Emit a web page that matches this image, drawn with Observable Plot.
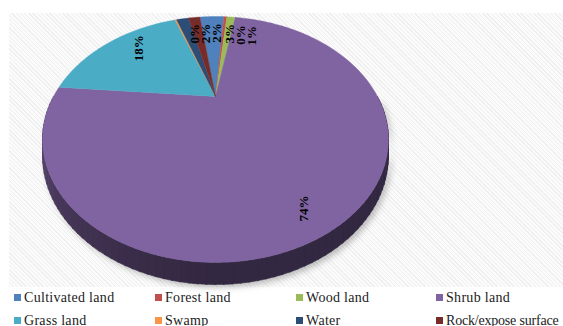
<!DOCTYPE html>
<html><head><meta charset="utf-8">
<script src="https://cdn.jsdelivr.net/npm/d3@7"></script>
<script src="https://cdn.jsdelivr.net/npm/@observablehq/plot@0.6"></script>
<style>
html,body{margin:0;padding:0;background:#fff;}
#wrap{position:relative;width:563px;height:326px;overflow:hidden;}
#bg{position:absolute;left:9px;top:13px;width:554px;height:274px;background:repeating-linear-gradient(45deg,#efefef 0px,#efefef 1px,#fbfbfb 1px,#fbfbfb 3px);}
#chart{position:absolute;left:0;top:0;}
#legend{position:absolute;left:0;top:289px;width:563px;height:37px;font-family:"Liberation Serif","DejaVu Serif",serif;font-size:14px;letter-spacing:0.3px;color:#222;}
.item{position:absolute;white-space:nowrap;line-height:16px;}
.sw{display:inline-block;width:7px;height:7px;margin-right:3px;vertical-align:1px;}
</style></head><body>
<div id="wrap"><div id="bg"></div><div id="chart"></div><div id="legend"></div></div>
<script>
const categories = ["Cultivated land","Forest land","Wood land","Shrub land","Grass land","Swamp","Water","Rock/expose surface"];
const shares = [3.2, 0.4, 1.1, 73.8, 18.2, 0.2, 1.6, 1.5];
const labels = ["3%","0%","1%","74%","18%","0%","2%","2%"];
const colors = ["#4F81BD","#C0504D","#9BBB59","#8064A2","#4BACC6","#F79646","#2C4D75","#772C2A"];

// layout constants
const startDeg = -7.5, persp = 0.35, depth = 0.133, labelShift = 10, labelR = 0.86;
const rad = d => d * Math.PI / 180;
const proj = (deg, r = 1, dz = 0) => {
  const c = Math.cos(rad(deg)) * r, s = Math.sin(rad(deg)) * r;
  const k = 1 + persp * c;
  return {x: s / k, y: (c - dz) / k};
};
const total = d3.sum(shares);
let acc = startDeg;
const slices = categories.map((c, i) => {
  const a0 = acc; acc += shares[i] / total * 360;
  return {c, i, a0, a1: acc, color: colors[i], label: labels[i]};
});
const arc = (a0, a1, dz = 0) => {
  const n = Math.max(2, Math.ceil(Math.abs(a1 - a0)));
  return d3.range(n + 1).map(j => proj(a0 + (a1 - a0) * j / n, 1, dz));
};

const marks = [];
// shadow
marks.push(Plot.line([...arc(90, 270, depth), ...arc(270, 90, 0)], {x: "x", y: "y", fill: "#000", fillOpacity: 0.25, stroke: "none", dx: 3, dy: 3}));
// walls (front half)
slices.forEach(s => {
  const lo = Math.max(s.a0, 90), hi = Math.min(s.a1, 270);
  if (hi <= lo) return;
  const n = Math.ceil((hi - lo) / 2);
  for (let j = 0; j < n; j++) {
    const p0 = lo + (hi - lo) * j / n, p1 = lo + (hi - lo) * (j + 1) / n;
    const m = (p0 + p1) / 2;
    const t = 0.6 - 0.36 * Math.pow(Math.max(0, (m - 180) / 90), 1.3);
    const col = d3.interpolateRgb(s.color, "#000")(t);
    const pts = [proj(p0), proj(p1 + 0.3), proj(p1 + 0.3, 1, depth), proj(p0, 1, depth), proj(p0)];
    marks.push(Plot.line(pts, {x: "x", y: "y", fill: col, stroke: col, strokeWidth: 0.6}));
  }
});
// top faces
slices.forEach(s => {
  const pts = [{x: 0, y: 0}, ...arc(s.a0, s.a1), {x: 0, y: 0}];
  marks.push(Plot.line(pts, {x: "x", y: "y", fill: s.color, stroke: s.color, strokeWidth: 0.4}));
});
// labels
const lab = slices.map(s => {
  const p = proj((s.a0 + s.a1) / 2 + labelShift, labelR);
  if (p.y > 0) p.y -= 0.074;
  return {x: p.x, y: p.y, label: s.label};
});
const order = lab.map((d, i) => i).sort((a, b) => lab[a].x - lab[b].x);
const gap = 11 / 162;
for (let it = 0; it < 60; it++) {
  for (let k = 0; k < order.length - 1; k++) {
    const A = lab[order[k]], B = lab[order[k + 1]];
    if (Math.abs(A.y - B.y) < 0.3 && B.x - A.x < gap) {
      const d = (gap - (B.x - A.x)) / 2; A.x -= d; B.x += d;
    }
  }
}
marks.push(Plot.text(lab, {x: "x", y: "y", text: "label", rotate: -90, fontSize: 13, fontWeight: "bold",
  fontFamily: "Liberation Serif", fill: "#000", textAnchor: "middle", lineAnchor: "middle"}));

const svg = Plot.plot({
  width: 563, height: 288, margin: 0,
  x: {domain: [-1, 1], range: [53, 377], axis: null},
  y: {domain: [-1, 1], range: [203.85, -11.95], axis: null},
  style: {background: "transparent", overflow: "visible"},
  marks
});
const g0 = svg.querySelector('g[aria-label="line"]');
if (g0) g0.style.filter = "blur(3px)";
document.getElementById("chart").appendChild(svg);

// legend
const cols = [14, 155, 296, 436], rows = [0.5, 23.5];
const leg = document.getElementById("legend");
categories.forEach((c, i) => {
  const d = document.createElement("div");
  d.className = "item";
  d.style.left = cols[i % 4] + "px";
  d.style.top = rows[Math.floor(i / 4)] + "px";
  if (i === 7) d.style.letterSpacing = "-0.2px";
  d.innerHTML = `<span class="sw" style="background:${colors[i]}"></span>${c}`;
  leg.appendChild(d);
});
</script>
</body></html>
